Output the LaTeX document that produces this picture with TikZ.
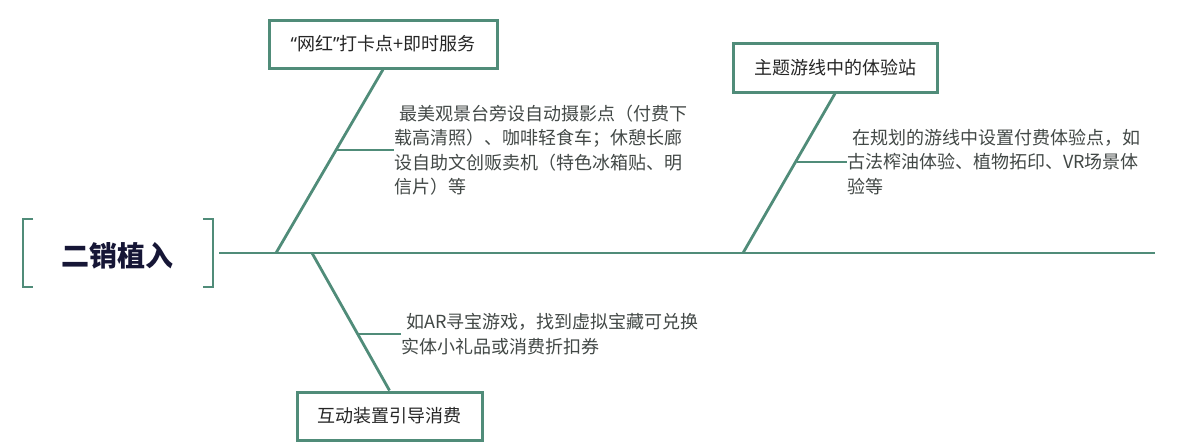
\documentclass[tikz,border=0pt]{standalone}
\usepackage{fontspec}
\setmainfont{Noto Sans CJK SC}
\newfontfamily\quotefont{Noto Sans}
\usepackage{xcolor}
\usetikzlibrary{calc}

\definecolor{fishgreen}{RGB}{80,140,121}
\definecolor{titleblue}{RGB}{22,22,54}
\definecolor{desctext}{RGB}{66,72,70}
\definecolor{boxtext}{RGB}{38,38,38}

\begin{document}
\begin{tikzpicture}[x=1pt,y=-1pt,
		bone/.style={draw=fishgreen, line width=2.8pt},
		twig/.style={draw=fishgreen, line width=2pt},
		headbox/.style={draw=fishgreen, line width=3pt, fill=white, text=boxtext, font=\fontsize{18}{22}\selectfont, inner sep=0pt},
		desc/.style={anchor=west, align=left, inner sep=0pt, text=desctext, font=\fontsize{18}{24.5}\selectfont}]
		\useasboundingbox (0,0) rectangle (1190,442);

		%Head
		\node at (117,256) (title) [text=titleblue, font=\fontsize{28}{32}\selectfont\bfseries] {二销植入};
		\draw [bone, line cap=butt] (33,219) -- (23,219) -- (23,287) -- (33,287);
		\draw [bone, line cap=butt] (203,219) -- (213,219) -- (213,287) -- (203,287);

		% Spine
		\coordinate (spineL) at (219,253);
		\coordinate (spineR) at (1155,253);
		\draw [bone] (spineL) -- (spineR);

		% Branch 1
		\coordinate (b1) at (276,253);
		\node at (383,44) (box1) [headbox, minimum width=228, minimum height=48] {{\quotefont “}网红{\quotefont ”}打卡点+即时服务};
		\draw [bone] (b1) -- (box1.south);
		\node at (394,150) (d1) [desc] {\hspace{0.3em}最美观景台旁设自动摄影点（付费下\\载高清照）、咖啡轻食车；休憩长廊\\设自助文创贩卖机（特色冰箱贴、明\\信片）等};
		\coordinate (s1) at (337,150);
		\draw [twig] (s1) -- (d1.west);

		% Branch 2
		\coordinate (b2) at (743,253);
		\node at (835,67.5) (box2) [headbox, minimum width=204, minimum height=49] {主题游线中的体验站};
		\draw [bone] (b2) -- (box2.south);
		\node at (847,162) (d2) [desc] {\hspace{0.3em}在规划的游线中设置付费体验点，如\\古法榨油体验、植物拓印、VR场景体\\验等};
		\coordinate (s2) at (797,162);
		\draw [twig] (s2) -- (d2.west);

		% Branch 3
		\coordinate (b3) at (312,253);
		\node at (389.5,416) (box3) [headbox, minimum width=185, minimum height=48] {互动装置引导消费};
		\draw [bone] (b3) -- (box3.north);
		\node at (401,334) (d3) [desc] {\hspace{0.3em}如AR寻宝游戏，找到虚拟宝藏可兑换\\实体小礼品或消费折扣券};
		\coordinate (s3) at (359,334);
		\draw [twig] (s3) -- (d3.west);

	\end{tikzpicture}
\end{document}
